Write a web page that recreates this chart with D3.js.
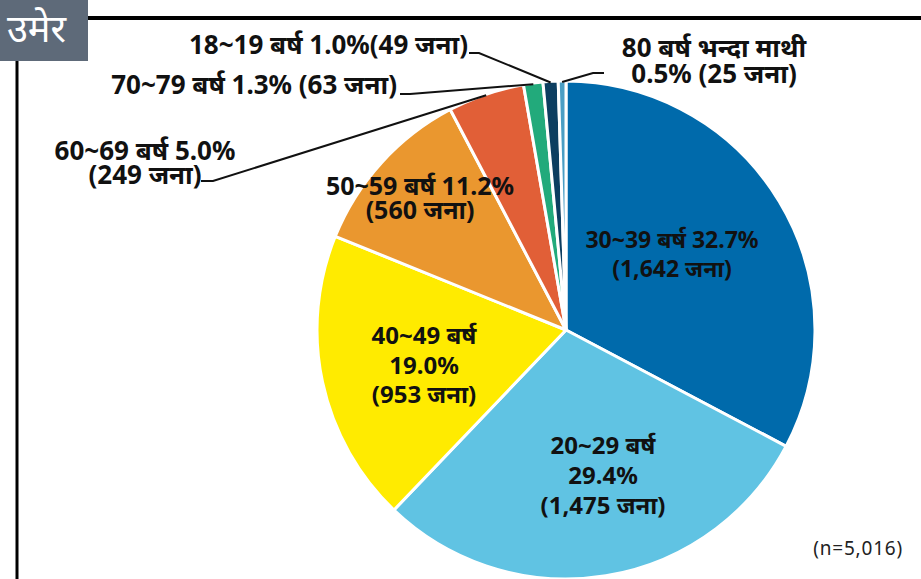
<!DOCTYPE html>
<html>
<head>
<meta charset="utf-8">
<script src="https://cdn.jsdelivr.net/npm/d3@7/dist/d3.min.js"></script>
<style>
html,body{margin:0;padding:0;background:#fff;}
svg{display:block;font-family:"Noto Sans","Open Sans",sans-serif;}
</style>
</head>
<body>
<svg id="chart" width="921" height="579"></svg>
<script>
const categories = ["30~39 बर्ष","20~29 बर्ष","40~49 बर्ष","50~59 बर्ष","60~69 बर्ष","70~79 बर्ष","18~19 बर्ष","80 बर्ष भन्दा माथी"];
const counts = [1642,1475,953,560,249,63,49,25];
const percents = ["32.7%","29.4%","19.0%","11.2%","5.0%","1.3%","1.0%","0.5%"];
const colors = ["#006AAB","#60C3E3","#FFEB00","#EA972F","#E15F37","#22AA7B","#0C3E60","#4A9EC4"];
const title = "उमेर";
const note = "(n=5,016)";

const labelLines = [
  ["30~39 बर्ष 32.7%","(1,642 जना)"],
  ["20~29 बर्ष","29.4%","(1,475 जना)"],
  ["40~49 बर्ष","19.0%","(953 जना)"],
  ["50~59 बर्ष 11.2%","(560 जना)"],
  ["60~69 बर्ष 5.0%","(249 जना)"],
  ["70~79 बर्ष 1.3% (63 जना)"],
  ["18~19 बर्ष 1.0%(49 जना)"],
  ["80 बर्ष भन्दा माथी","0.5% (25 जना)"]
];

const svg = d3.select("#chart");
const cx = 566, cy = 330, R = 249;

svg.append("line").attr("x1",88).attr("x2",921).attr("y1",18).attr("y2",18)
  .attr("stroke","#000").attr("stroke-width",4);
svg.append("line").attr("x1",17).attr("x2",17).attr("y1",60).attr("y2",579)
  .attr("stroke","#000").attr("stroke-width",3);
svg.append("rect").attr("x",0).attr("y",0).attr("width",88).attr("height",61).attr("fill","#5E6A79");
svg.append("text").attr("x",7).attr("y",42).attr("fill","#fff")
  .attr("font-size",38).attr("font-weight",400).text(title);

const data = categories.map((c,i)=>({cat:c,count:counts[i],color:colors[i],lines:labelLines[i]}));
const pie = d3.pie().value(d=>d.count).sort(null);
const arcs = pie(data);
const arc = d3.arc().innerRadius(0).outerRadius(R);

const g = svg.append("g").attr("transform",`translate(${cx},${cy})`);
g.selectAll("path").data(arcs).join("path")
  .attr("d",arc).attr("fill",d=>d.data.color)
  .attr("stroke","#fff").attr("stroke-width",3).attr("stroke-linejoin","round");

const inside = {
  0:{x:672,y:248,dy:29,fs:23},
  1:{x:603,y:454,dy:30,fs:24},
  2:{x:424,y:344,dy:29.5,fs:24},
  3:{x:420,y:195,dy:24,fs:25}
};
Object.keys(inside).forEach(k=>{
  const p = inside[k];
  const t = svg.append("text").attr("text-anchor","middle").attr("font-weight",700)
    .attr("font-size",p.fs).attr("fill","#111");
  arcs[k].data.lines.forEach((ln,j)=>{
    t.append("tspan").attr("x",p.x).attr("y",p.y+j*p.dy).text(ln);
  });
});

function edgePoint(a, r){ const ang=(a.startAngle+a.endAngle)/2; return [cx+Math.sin(ang)*r, cy-Math.cos(ang)*r]; }

const outside = {
  4:{x:145,y:160,dy:24,anchor:"middle",line:[[201,181],[213,181]]},
  5:{x:397,y:94,dy:0,anchor:"end",line:[[400,94],[410,94]]},
  6:{x:468,y:54,dy:0,anchor:"end",line:[[469,53],[479,53]]},
  7:{x:714,y:57,dy:26,anchor:"middle",line:[[604,73],[593,73]]}
};
Object.keys(outside).forEach(k=>{
  const p = outside[k];
  const t = svg.append("text").attr("text-anchor",p.anchor).attr("font-weight",700)
    .attr("font-size",26).attr("fill","#111");
  arcs[k].data.lines.forEach((ln,j)=>{
    t.append("tspan").attr("x",p.x).attr("y",p.y+j*p.dy).text(ln);
  });
  const e = edgePoint(arcs[k], R-1);
  const pts = p.line.concat([e]);
  svg.append("path").attr("d",d3.line()(pts)).attr("fill","none")
    .attr("stroke","#111").attr("stroke-width",2);
});

svg.append("text").attr("x",903).attr("y",555).attr("text-anchor","end")
  .attr("font-size",19).attr("letter-spacing",0.8).attr("fill","#222").text(note);
</script>
</body>
</html>
